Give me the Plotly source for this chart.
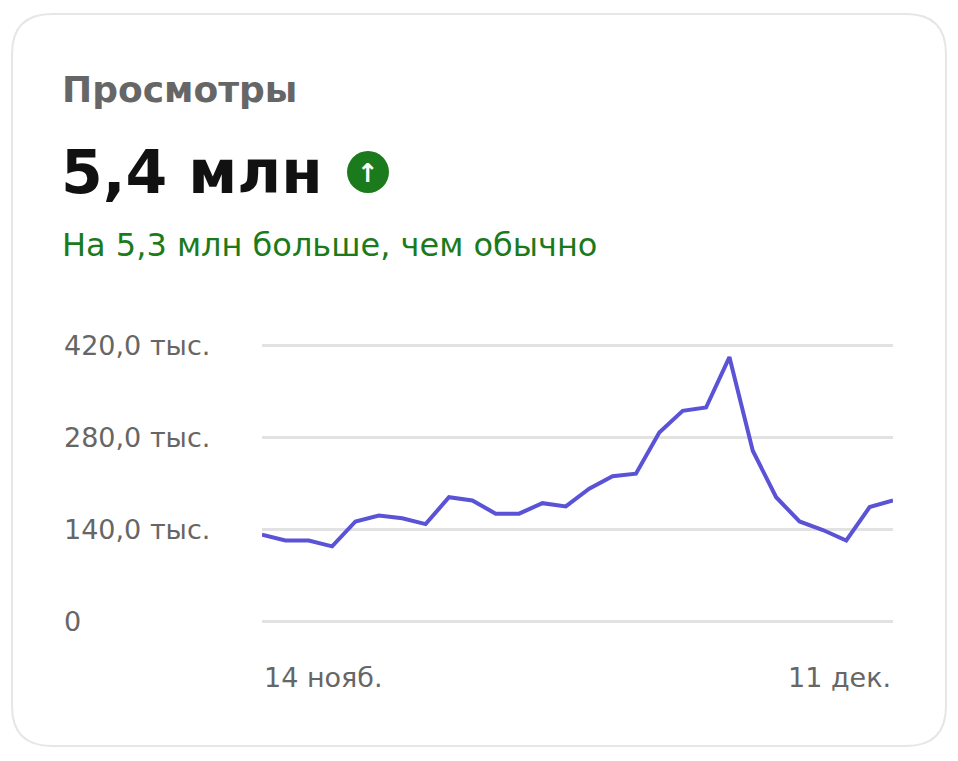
import plotly.graph_objects as go
import pandas as pd

dates = pd.date_range("2023-11-14", "2023-12-11", freq="D")
views = [132, 123, 123, 114, 152, 161, 157, 148, 189, 184, 164, 164, 180, 175,
         202, 221, 225, 288, 321, 326, 403, 260, 189, 152, 139, 123, 174, 184]
views = [v * 1000 for v in views]
y_ticks = [0, 140000, 280000, 420000]
y_tick_labels = ["0", "140,0 тыс.", "280,0 тыс.", "420,0 тыс."]
x_tick_labels = ["14 нояб.", "11 дек."]

W, H = 958, 761
F = "DejaVu Sans"
fig = go.Figure(go.Scatter(x=dates, y=views, mode="lines",
                           line=dict(color="#5b53d6", width=4), hoverinfo="skip"))

px = lambda x: x / W
py = lambda y: 1 - y / H

def rr(x0, y0, x1, y1, r):
    return (f"M {px(x0+r)} {py(y0)} L {px(x1-r)} {py(y0)} Q {px(x1)} {py(y0)} {px(x1)} {py(y0+r)} "
            f"L {px(x1)} {py(y1-r)} Q {px(x1)} {py(y1)} {px(x1-r)} {py(y1)} L {px(x0+r)} {py(y1)} "
            f"Q {px(x0)} {py(y1)} {px(x0)} {py(y1-r)} L {px(x0)} {py(y0+r)} Q {px(x0)} {py(y0)} {px(x0+r)} {py(y0)} Z")

shapes = [dict(type="path", path=rr(12, 14, 946, 746, 40), xref="paper", yref="paper",
               line=dict(color="#e6e6e6", width=2), fillcolor="white", layer="below"),
          dict(type="circle", xref="paper", yref="paper",
               x0=px(347), x1=px(389), y0=py(193), y1=py(151),
               fillcolor="#1b7a1b", line=dict(width=0))]

def A(x, y, text, size, color, xanchor="left", family=F, xref="paper", yref="paper", weight=None):
    f = dict(family=family, size=size, color=color)
    if weight:
        f["weight"] = weight
    return dict(x=x, y=y, xref=xref, yref=yref, text=text, showarrow=False,
                xanchor=xanchor, yanchor="middle", font=f)

ann = []
for v, t in zip(y_ticks, y_tick_labels):
    ann.append(A(px(62), v, t, 27, "#666", yref="y"))
ann.append(A(dates[0], py(677), x_tick_labels[0], 27, "#666", xref="x"))
ann.append(A(dates[-1], py(677), x_tick_labels[1], 27, "#666", xanchor="right", xref="x"))
ann.append(A(px(60), py(90), "Просмотры", 36, "#666", weight=700))
ann.append(A(px(59), py(172), "5,4 млн", 60, "#111", weight=700))
ann.append(A(px(368), py(173), "<b>↑</b>", 26, "white", xanchor="center"))
ann.append(A(px(60), py(245), "На 5,3 млн больше, чем обычно", 32, "#1b7a1b"))

fig.update_layout(
    width=W, height=H, margin=dict(l=0, r=0, t=0, b=0),
    paper_bgcolor="white", plot_bgcolor="rgba(0,0,0,0)", showlegend=False,
    shapes=shapes, annotations=ann,
    xaxis=dict(showgrid=False, showticklabels=False, zeroline=False, domain=[px(262), px(893)],
               range=[dates[0], dates[-1]], fixedrange=True),
    yaxis=dict(range=[-3000, 423000], tickvals=y_ticks, showticklabels=False,
               domain=[py(623), py(344)],
               gridcolor="#e2e2e2", gridwidth=3, zeroline=False, fixedrange=True),
)
fig.write_html("out.html", config={"displayModeBar": False},
               post_script="document.body.style.margin='0';")
